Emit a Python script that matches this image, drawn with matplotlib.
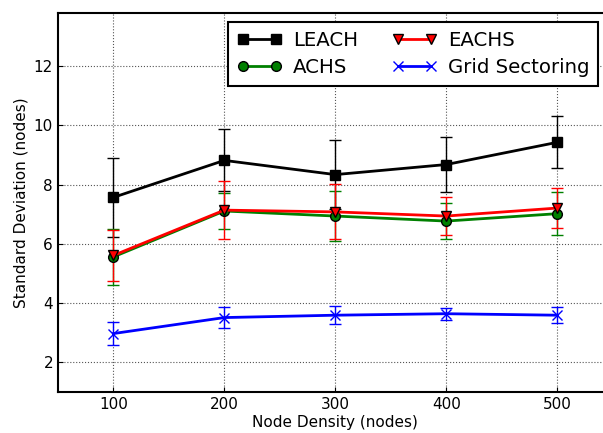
import matplotlib
matplotlib.use("Agg")
import matplotlib.pyplot as plt
import numpy as np

# node density vs. std deviation of cluster size
density = [100, 200, 300, 400, 500]

leach = [7.57, 8.82, 8.34, 8.68, 9.43]
leach_err = [1.33, 1.05, 1.16, 0.93, 0.88]

achs = [5.56, 7.11, 6.94, 6.77, 7.02]
achs_err = [0.95, 0.60, 0.85, 0.60, 0.73]

eachs = [5.61, 7.14, 7.08, 6.94, 7.21]
eachs_err = [0.85, 0.98, 0.93, 0.63, 0.67]

grid = [2.97, 3.51, 3.59, 3.64, 3.59]
grid_err = [0.38, 0.35, 0.30, 0.20, 0.28]

fig = plt.figure(figsize=(6.03, 4.33), dpi=100)
ax = fig.add_axes([0.096, 0.095, 0.92, 0.875])

series = [
    ('LEACH', leach, leach_err, 'k', 's'),
    ('ACHS', achs, achs_err, 'g', 'o'),
    ('EACHS', eachs, eachs_err, 'r', 'v'),
    ('Grid Sectoring', grid, grid_err, 'b', 'x'),
]
handles = []
for name, vals, errs, c, m in series:
    cont = ax.errorbar(density, vals, yerr=errs, color=c, marker=m,
                       markersize=7, linewidth=2, elinewidth=1, capsize=4,
                       capthick=1, markeredgecolor=c if m == 'x' else 'k',
                       label=name)
    handles.append(cont.lines[0])

ax.set_xlim(50, 550)
ax.set_ylim(1, 13.8)
ax.set_xticks(density)
ax.set_yticks([2, 4, 6, 8, 10, 12])
ax.grid(True, linestyle=':', color='#555555', linewidth=0.8)
ax.tick_params(labelsize=11, direction='in')
ax.set_xlabel('Node Density (nodes)', fontsize=11, labelpad=2)
ax.set_ylabel('Standard Deviation (nodes)', fontsize=11)
for s in ax.spines.values():
    s.set_linewidth(1.5)
# the right edge runs off the canvas
ax.spines['right'].set_visible(False)

leg = ax.legend(handles, [s[0] for s in series], loc='upper right', ncol=2,
                fontsize=14.2, numpoints=2, fancybox=False, framealpha=1,
                edgecolor='k', bbox_to_anchor=(0.985, 0.992),
                borderaxespad=0.3, handlelength=2.3, columnspacing=1.7,
                handletextpad=0.55, labelspacing=0.4, borderpad=0.45)
leg.get_frame().set_linewidth(1.5)

fig.savefig('out.png', dpi=100)
